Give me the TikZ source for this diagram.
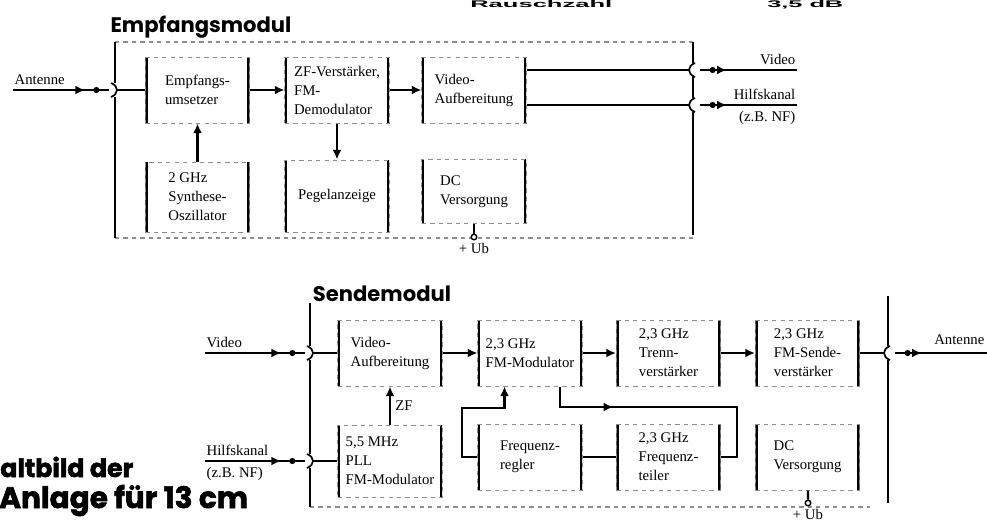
\documentclass[tikz,border=0pt]{standalone}
\usepackage{fontspec}
\setmainfont{Liberation Serif}
\newfontfamily\titlefont{Poppins}
\newfontfamily\heavyfont{Poppins}[BoldFeatures={FakeBold=2}]
\newfontfamily\headfont{Liberation Sans}
\usetikzlibrary{positioning,arrows.meta,decorations.markings}
\tikzset{
  sig/.style={line width=1.6pt},
  sigarrow/.style={sig, -{Latex[length=2.4mm,width=2.2mm]}},
  blockbox/.style={draw=black!45, dashed, line width=0.7pt, minimum width=2.6cm, minimum height=1.65cm, align=left, font=\fontsize{10.5}{13.5}\selectfont,
    path picture={\draw[solid, black, line width=3pt] (path picture bounding box.north west) -- (path picture bounding box.south west) (path picture bounding box.north east) -- (path picture bounding box.south east);}},
  framedash/.style={draw=black!45, dashed, line width=0.8pt},
  frameline/.style={line width=1.2pt},
  socket/.style={line width=1.2pt},
  inplug/.style={postaction=decorate, decoration={markings, mark=at position -17pt with {\arrow{Latex[length=2.4mm,width=2.2mm]}}, mark=at position -9pt with {\fill (0,0) circle (2.2pt);}}},
  outplug/.style={postaction=decorate, decoration={markings, mark=at position 9pt with {\fill (0,0) circle (2.2pt);}, mark=at position 19pt with {\arrow{Latex[length=2.4mm,width=2.2mm]}}}},
  midarrow/.style={postaction=decorate, decoration={markings, mark=at position 0.28 with {\arrow{Latex[length=2.4mm,width=2.2mm]}}}},
  relabel/.style={font=\fontsize{10.5}{12}\selectfont, inner sep=1pt},
  modtitle/.style={font=\titlefont\bfseries\fontsize{15}{18}\selectfont},
  heavy/.style={font=\heavyfont\bfseries\fontsize{#1}{24}\selectfont, inner sep=0pt},
  headline/.style={font=\headfont\bfseries, inner sep=0pt},
  supply/.style={circle, draw, fill=white, line width=1pt, inner sep=1.4pt}
}
\begin{document}
\begin{tikzpicture}[x=0.025cm, y=-0.025cm]
  \useasboundingbox (0,0) rectangle (987,522);

  % headline along the top edge
  \node[headline, anchor=base west] (rauschzahl) at (470,7.5) {\resizebox{3.55cm}{0.175cm}{Rauschzahl}};
  \node[headline, anchor=base west] (rauschwert) at (767,7.5) {\resizebox{1.9cm}{0.175cm}{3,5 dB}};

  % Empfangsmodul
  \node[modtitle] (empfTitle) at (201,27) {Empfangsmodul};
  \draw[framedash] (115,42) -- (693,42) (115,238) -- (693,238);
  \draw[frameline] (115,42) -- (115,83) (115,97) -- (115,238);
  \draw[frameline] (693,42) -- (693,63) (693,77) -- (693,98) (693,112) -- (693,235);

  \node[blockbox] (umsetzer) at (197.5,90) {Empfangs-\\umsetzer};
  \node[blockbox] (zfdemod) at (337,90) {ZF-Verstärker,\\FM-\\Demodulator};
  \node[blockbox] (videoE) at (474,90) {Video-\\Aufbereitung};
  \node[blockbox, minimum height=1.75cm] (synth) at (197.5,197) {2 GHz\\Synthese-\\Oszillator};
  \node[blockbox, minimum height=1.8cm] (pegel) at (337,196) {Pegelanzeige};
  \node[blockbox, minimum height=1.6cm] (dcE) at (474,191.5) {DC\\Versorgung};

  \coordinate (antE) at (13,90);
  \coordinate (antEplug) at (109,90);
  \coordinate (sockE) at (117,90);
  \node[relabel, anchor=south west] (antELbl) at (13,86) {Antenne};
  \draw[sig, inplug] (antE) -- (antEplug);
  \draw[socket] (sockE) ++(-6,-7) .. controls +(8,3) and +(8,-3) .. ++(0,14);
  \draw[sig] (sockE) -- (umsetzer);
  \draw[sigarrow] (umsetzer) -- (zfdemod);
  \draw[sigarrow] (zfdemod) -- (videoE);
  \draw[sigarrow] (synth) -- (umsetzer);
  \draw[sigarrow] (zfdemod) -- (pegel);

  \coordinate (vidOutS) at (689,70);
  \coordinate (vidOutA) at (700,70);
  \coordinate (vidOutB) at (797,70);
  \coordinate (hkOutS) at (689,105);
  \coordinate (hkOutA) at (700,105);
  \coordinate (hkOutB) at (797,105);
  \draw[sig] (videoE.east |- vidOutS) -- (vidOutS);
  \draw[sig] (videoE.east |- hkOutS) -- (hkOutS);
  \draw[socket] (vidOutS) ++(6,-7) .. controls +(-8,3) and +(-8,-3) .. ++(0,14);
  \draw[socket] (hkOutS) ++(6,-7) .. controls +(-8,3) and +(-8,-3) .. ++(0,14);
  \draw[sig, outplug] (vidOutA) -- (vidOutB);
  \draw[sig, outplug] (hkOutA) -- (hkOutB);
  \node[relabel, anchor=south east] (vidOutLbl) at (797,66) {Video};
  \node[relabel, anchor=south east] (hkOutLbl) at (797,101) {Hilfskanal};
  \node[relabel, anchor=north east] (hkOutNote) at (797,110) {(z.B. NF)};

  \node[supply] (ubE) at (474,237) {};
  \draw[sig] (dcE) -- (ubE);
  \node[relabel, below=1pt of ubE] (ubELbl) {+ Ub};

  % Sendemodul
  \node[modtitle] (sendTitle) at (382,294) {Sendemodul};
  \draw[framedash] (310,507) -- (870,507);
  \draw[frameline] (310,303) -- (310,346) (310,360) -- (310,454) (310,468) -- (310,507);
  \draw[frameline] (888,296) -- (888,346) (888,360) -- (888,503);

  \node[blockbox] (videoS) at (390,353) {Video-\\Aufbereitung};
  \node[blockbox] (fmmod) at (530,353) {2,3 GHz\\FM-Modulator};
  \node[blockbox] (trenn) at (668.5,353) {2,3 GHz\\Trenn-\\verstärker};
  \node[blockbox] (sende) at (807.5,353) {2,3 GHz\\FM-Sende-\\verstärker};
  \node[blockbox, minimum height=1.8cm] (pll) at (390,461) {5,5 MHz\\PLL\\FM-Modulator};
  \node[blockbox] (regler) at (530,457) {Frequenz-\\regler};
  \node[blockbox] (teiler) at (668.5,457) {2,3 GHz\\Frequenz-\\teiler};
  \node[blockbox] (dcS) at (807.5,457) {DC\\Versorgung};

  \coordinate (vidIn) at (205,353);
  \coordinate (vidInPlug) at (305,353);
  \coordinate (vidInS) at (313,353);
  \coordinate (hkIn) at (205,461);
  \coordinate (hkInPlug) at (305,461);
  \coordinate (hkInS) at (313,461);
  \node[relabel, anchor=south west] (vidInLbl) at (205,349) {Video};
  \node[relabel, anchor=south west] (hkInLbl) at (205,457) {Hilfskanal};
  \node[relabel, anchor=north west] (hkInNote) at (205,466) {(z.B. NF)};
  \draw[sig, inplug] (vidIn) -- (vidInPlug);
  \draw[sig, inplug] (hkIn) -- (hkInPlug);
  \draw[socket] (vidInS) ++(-6,-7) .. controls +(8,3) and +(8,-3) .. ++(0,14);
  \draw[socket] (hkInS) ++(-6,-7) .. controls +(8,3) and +(8,-3) .. ++(0,14);
  \draw[sig] (vidInS) -- (videoS);
  \draw[sig] (hkInS) -- (pll);

  \draw[sigarrow] (videoS) -- (fmmod);
  \draw[sigarrow] (fmmod) -- (trenn);
  \draw[sigarrow] (trenn) -- (sende);
  \draw[sigarrow] (pll) -- node[relabel, right=2pt] (zfLbl) {ZF} (videoS);

  \coordinate (antOutS) at (884,353);
  \coordinate (antOutA) at (895,353);
  \coordinate (antOutB) at (987,353);
  \draw[sig] (sende) -- (antOutS);
  \draw[socket] (antOutS) ++(6,-7) .. controls +(-8,3) and +(-8,-3) .. ++(0,14);
  \draw[sig, outplug] (antOutA) -- (antOutB);
  \node[relabel, anchor=south east] (antOutLbl) at (986,346) {Antenne};

  % frequency loop
  \coordinate (loopL) at (462,408);
  \coordinate (loopR) at (737,407);
  \draw[sigarrow] (regler.west) -| (loopL) -| ([xshift=0.675cm]fmmod.south west);
  \draw[sig, midarrow] ([xshift=0.75cm]fmmod.south) |- (loopR) |- (teiler.east);
  \draw[sig] (teiler) -- (regler);

  \node[supply] (ubS) at (808,503) {};
  \draw[sig] (dcS) -- (ubS);
  \node[relabel, below=1pt of ubS] (ubSLbl) {+ Ub};

  % caption at the left edge
  \node[heavy=18, anchor=base west] (capA) at (0,477) {altbild der};
  \node[heavy=21, anchor=base west] (capB) at (-1,508) {Anlage für 13 cm};
\end{tikzpicture}
\end{document}
